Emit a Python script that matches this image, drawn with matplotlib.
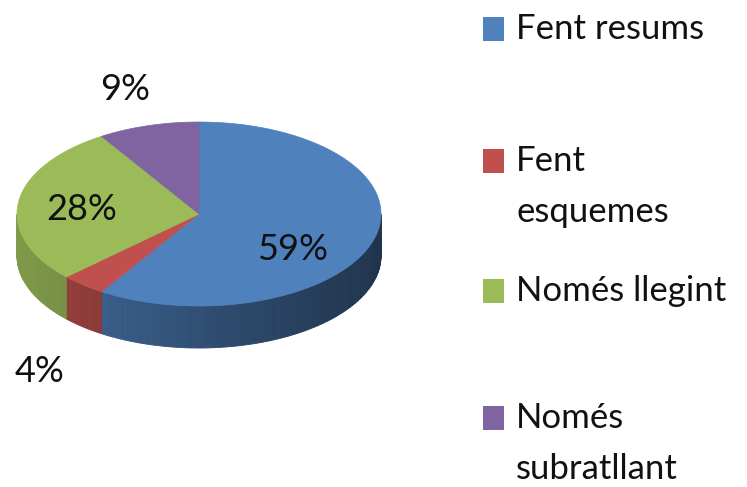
import numpy as np
import matplotlib.pyplot as plt
from matplotlib.patches import Polygon, Rectangle

labels = ["Fent resums", "Fent\nesquemes", "Només llegint", "Només\nsubratllant"]
shares = [59, 4, 28, 9]
pct_labels = ["59%", "4%", "28%", "9%"]
colors = ["#4F81BD", "#C0504D", "#9BBB59", "#8064A2"]

plt.rcParams['font.family'] = ['Lato', 'DejaVu Sans']

fig = plt.figure(figsize=(7.47, 4.87), dpi=100)
ax = fig.add_axes([0, 0, 1, 1])
ax.set_xlim(0, 747)
ax.set_ylim(487, 0)
ax.axis("off")

# pie geometry (pixels)
cx, cy = 199, 214
rx, ry = 182, 92
depth = 42


def pt(a, dy=0):
    # a: angle clockwise from 12 o'clock, radians
    return cx + rx * np.sin(a), cy - ry * np.cos(a) + dy


def shade(c, f):
    r, g, b = (int(c[i:i + 2], 16) / 255 for i in (1, 3, 5))
    return (r * f, g * f, b * f)


bounds = np.concatenate([[0], np.cumsum(shares)]) / sum(shares) * 2 * np.pi

# side walls (front half only)
for i, col in enumerate(colors):
    a0, a1 = max(bounds[i], np.pi / 2), min(bounds[i + 1], 3 * np.pi / 2)
    if a1 <= a0:
        continue
    steps = np.linspace(a0, a1, max(int((a1 - a0) * 60), 2))
    for s0, s1 in zip(steps[:-1], steps[1:]):
        x0, y0 = pt(s0)
        x1, y1 = pt(s1)
        f = 0.61 - 0.21 * np.sin((s0 + s1) / 2)
        ax.add_patch(Polygon([(x0, y0), (x1, y1), (x1, y1 + depth), (x0, y0 + depth)],
                             closed=True, facecolor=shade(col, f), edgecolor=shade(col, f),
                             linewidth=0.6))

# top faces
for i, col in enumerate(colors):
    arc = np.linspace(bounds[i], bounds[i + 1], 120)
    xs, ys = pt(arc)
    verts = [(cx, cy)] + list(zip(xs, ys))
    ax.add_patch(Polygon(verts, closed=True, facecolor=col, edgecolor=col, linewidth=0.5))

# percentage labels
label_pos = [(293, 250), (40, 372), (82, 210), (125, 90)]
for (x, y), t in zip(label_pos, pct_labels):
    ax.text(x, y, t, fontsize=26, ha="center", va="center", color="#111111")

# legend
legend_y = [29, 161, 291, 418]
for lab, col, y in zip(labels, colors, legend_y):
    ax.add_patch(Rectangle((483, y - 12), 21, 24, facecolor=col, edgecolor="none"))
    for k, line in enumerate(lab.split("\n")):
        ax.text(516, y + k * 51, line, fontsize=25, ha="left", va="center",
                color="#111111")

fig.savefig("out.png", dpi=100)
